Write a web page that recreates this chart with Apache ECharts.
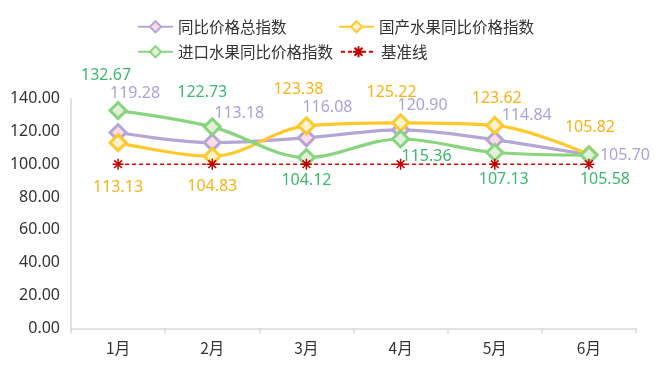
<!DOCTYPE html>
<html>
<head>
<meta charset="utf-8">
<script src="https://cdn.jsdelivr.net/npm/echarts@6/dist/echarts.min.js"></script>
<style>
html,body{margin:0;padding:0;background:#fff;}
#chart{width:664px;height:371px;}
</style>
</head>
<body>
<div id="chart"></div>
<script>
// ---- data ----
var categories = ['1月', '2月', '3月', '4月', '5月', '6月'];
var seriesNames = ['同比价格总指数', '国产水果同比价格指数', '进口水果同比价格指数', '基准线'];
var totalIndex = [119.28, 113.18, 116.08, 120.90, 114.84, 105.70];
var domesticIndex = [113.13, 104.83, 123.38, 125.22, 123.62, 105.82];
var importIndex = [132.67, 122.73, 104.12, 115.36, 107.13, 105.58];
var baseline = [100, 100, 100, 100, 100, 100];
var yTicks = [0, 20, 40, 60, 80, 100, 120, 140];

// ---- styles (label offsets relative to point) ----
var FONT = '"Noto Sans CJK SC", "Noto Sans", sans-serif';
var NUMFONT = '"Noto Sans", "Noto Sans CJK SC", sans-serif';
var offTotal = [[17,-39],[27,-29],[21,-30],[22,-24],[32,-24],[36,1]];
var offDomestic = [[0,45],[0,30],[-8,-36],[-9,-30],[2,-27],[1,-27]];
var offImport = [[-12,-35],[-10,-34],[0,23],[26,17],[9,27],[16,24]];

function withLabels(values, offsets, color) {
  return values.map(function (v, i) {
    return {
      value: v,
      label: {
        show: true,
        position: 'inside',
        offset: offsets[i],
        color: color,
        fontSize: 16,
        fontFamily: NUMFONT,
        formatter: function (p) { return Number(p.value).toFixed(2); }
      }
    };
  });
}

function lineSeries(name, values, offsets, lineColor, fillColor, labelColor, z) {
  return {
    name: name,
    type: 'line',
    smooth: 0.35,
    symbol: 'diamond',
    symbolSize: 16,
    z: z,
    lineStyle: { color: lineColor, width: 3.2 },
    itemStyle: { color: fillColor, borderColor: lineColor, borderWidth: 3 },
    emphasis: { disabled: true },
    data: withLabels(values, offsets, labelColor)
  };
}

var starPath = 'path://M0,5L10,5M5,0L5,10M1.5,1.5L8.5,8.5M8.5,1.5L1.5,8.5';

var legendBase = {
  itemWidth: 35,
  itemHeight: 14,
  itemGap: 10,
  textStyle: { fontSize: 15.5, color: '#333', fontFamily: FONT },
  selectedMode: false
};
function legendAt(names, left, top) {
  var l = Object.assign({}, legendBase);
  l.data = names; l.left = left; l.top = top;
  return l;
}

var option = {
  animation: false,
  backgroundColor: '#fff',
  textStyle: { fontFamily: FONT },
  legend: [
    legendAt([seriesNames[0]], 132, 14),
    legendAt([seriesNames[1]], 333, 14),
    legendAt([seriesNames[2]], 132, 39),
    legendAt([seriesNames[3]], 335, 39)
  ],
  grid: { left: 71, right: 28, top: 98.5, height: 230, containLabel: false },
  xAxis: {
    type: 'category',
    data: categories,
    boundaryGap: true,
    axisLine: { show: true, lineStyle: { color: '#D9D9D9', width: 1.5 } },
    axisTick: { show: true, length: 5, lineStyle: { color: '#D9D9D9', width: 1.5 } },
    axisLabel: { color: '#333', fontSize: 15.5, margin: 12, fontFamily: FONT }
  },
  yAxis: {
    type: 'value',
    min: yTicks[0],
    max: yTicks[yTicks.length - 1],
    interval: yTicks[1] - yTicks[0],
    axisLine: { show: true, lineStyle: { color: '#D9D9D9', width: 1.5 } },
    axisTick: { show: false },
    splitLine: { show: false },
    axisLabel: {
      color: '#333', fontSize: 16, margin: 11, fontFamily: NUMFONT,
      formatter: function (v) { return v.toFixed(2); }
    }
  },
  series: [
    lineSeries(seriesNames[0], totalIndex, offTotal, '#B4A7D6', '#FADDE6', '#A9A3DA', 2),
    lineSeries(seriesNames[1], domesticIndex, offDomestic, '#FFC92E', '#FFF2CC', '#F5B416', 3),
    lineSeries(seriesNames[2], importIndex, offImport, '#88D47F', '#E2F0D9', '#3DB870', 4),
    {
      name: seriesNames[3],
      type: 'line',
      symbol: starPath,
      symbolSize: 11,
      z: 5,
      lineStyle: { color: '#E00000', width: 1.5, type: [4, 3] },
      itemStyle: { color: '#C00000', borderColor: '#C00000', borderWidth: 1.5 },
      emphasis: { disabled: true },
      label: { show: false },
      data: baseline
    }
  ]
};

var chart = echarts.init(document.getElementById('chart'), null, { renderer: 'canvas' });
chart.setOption(option);
</script>
</body>
</html>
